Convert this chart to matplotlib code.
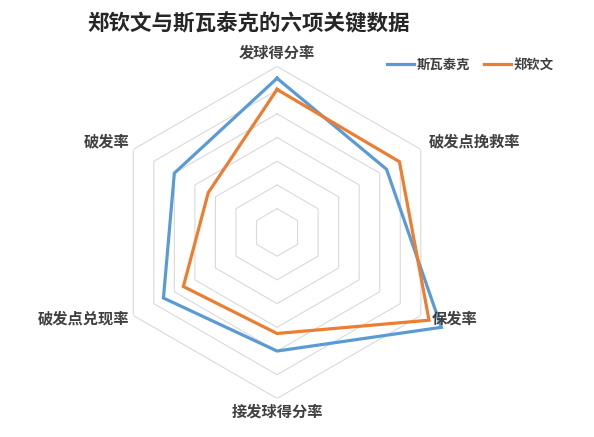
import numpy as np
import matplotlib
matplotlib.use("Agg")
import matplotlib.pyplot as plt

plt.rcParams['font.family'] = ['Noto Sans CJK SC', 'DejaVu Sans']

# 六项指标（顺时针，从顶部开始）
categories = ["发球得分率", "破发点挽救率", "保发率", "接发球得分率", "破发点兑现率", "破发率"]
swiatek = [65, 53.3, 80, 50, 55.3, 50]
zheng = [60.3, 59.6, 74, 42.6, 45.6, 33.5]
series_names = ["斯瓦泰克", "郑钦文"]
ring_values = [10, 20, 30, 40, 50, 60, 70]
r_max = 70

blue = "#5B9BD5"
orange = "#ED7D31"
grid_c = "#D9D9D9"
text_c = "#404040"

fig = plt.figure(figsize=(5.94, 4.37), dpi=100)
ax = fig.add_axes([0.1869, 0.0881, 0.559, 0.760], projection="polar")
ax.set_theta_zero_location("N")
ax.set_theta_direction(-1)
ax.set_ylim(0, r_max)
ax.axis("off")

n = len(categories)
theta = np.linspace(0, 2 * np.pi, n, endpoint=False)
theta_c = np.append(theta, theta[0])

# 六边形网格
for rv in ring_values:
    ax.plot(theta_c, [rv] * (n + 1), color=grid_c, lw=0.8, zorder=1)

for vals, col, name in [(swiatek, blue, series_names[0]), (zheng, orange, series_names[1])]:
    v = np.append(vals, vals[0])
    ax.plot(theta_c, v, color=col, lw=2.3, label=name, clip_on=False, zorder=3,
            solid_joinstyle="miter")

# 分类标签
offsets = {0: ("center", "bottom", 0, 4), 1: ("left", "center", 6, 6),
           2: ("left", "center", 8, -2), 3: ("center", "top", 0, -4),
           4: ("right", "center", -3, -2), 5: ("right", "center", -3, 6)}
for i, lab in enumerate(categories):
    ha, va, dx, dy = offsets[i]
    ax.annotate(lab, xy=(theta[i], r_max), xytext=(dx, dy), textcoords="offset points",
                ha=ha, va=va, fontsize=11, fontweight="bold", color=text_c,
                annotation_clip=False)

fig.text(0.419, 0.945, "郑钦文与斯瓦泰克的六项关键数据", ha="center", va="center",
         fontsize=15.5, fontweight="bold", color="#262626")

leg = ax.legend(loc="center", bbox_to_anchor=(0.792, 0.851), bbox_transform=fig.transFigure,
                ncol=2, frameon=False, handlelength=2.0, handletextpad=0.2,
                columnspacing=1.1, prop={"weight": "bold", "size": 9.6})
for t in leg.get_texts():
    t.set_color(text_c)

fig.savefig("out.png", dpi=100, facecolor="white")
